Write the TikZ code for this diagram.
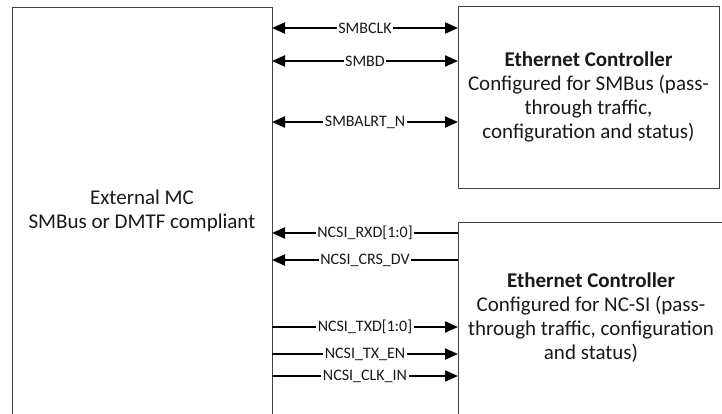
\documentclass[tikz,border=0pt]{standalone}
\usepackage{fontspec}
\setmainfont{Carlito}
\usepackage{tikz}
\usetikzlibrary{arrows.meta,positioning,calc}

\begin{document}
\begin{tikzpicture}[x=1pt, y=-1pt,
		block/.style={draw=black!75, line width=1pt, align=center, outer sep=0pt, text=black!90, font=\fontsize{21}{24}\selectfont},
		sig/.style={line width=2pt, black},
		lbl/.style={fill=white, inner sep=1.5pt, text=black!90, font=\fontsize{16}{18}\selectfont}
		]
		\useasboundingbox (0,0) rectangle (722,413);
		\clip (0,0) rectangle (722,413);
		\node[block, minimum width=260pt, minimum height=408pt] (mc) at (142,211) {External MC\\SMBus or DMTF compliant};
		\node[block, minimum width=261pt, minimum height=182pt] (ecsmb) at (588.5,97) {\textbf{Ethernet Controller}\\Configured for SMBus (pass-\\through traffic,\\configuration and status)};
		\node[block, minimum width=266pt, minimum height=192pt] (ecncsi) at (591,318) {\textbf{Ethernet Controller}\\Configured for NC-SI (pass-\\through traffic, configuration\\and status)};
		\draw[sig, {Triangle[length=13pt,width=11pt]}-{Triangle[length=13pt,width=11pt]}] (mc.east |- 0,28) -- node[lbl] {SMBCLK} (ecsmb.west |- 0,28);
		\draw[sig, {Triangle[length=13pt,width=11pt]}-{Triangle[length=13pt,width=11pt]}] (mc.east |- 0,61) -- node[lbl] {SMBD} (ecsmb.west |- 0,61);
		\draw[sig, {Triangle[length=13pt,width=11pt]}-{Triangle[length=13pt,width=11pt]}] (mc.east |- 0,122) -- node[lbl] {SMBALRT\_N} (ecsmb.west |- 0,122);
		\draw[sig, {Triangle[length=13pt,width=11pt]}-] (mc.east |- 0,233) -- node[lbl] {NCSI\_RXD[1:0]} (ecncsi.west |- 0,233);
		\draw[sig, {Triangle[length=13pt,width=11pt]}-] (mc.east |- 0,260) -- node[lbl] {NCSI\_CRS\_DV} (ecncsi.west |- 0,260);
		\draw[sig, -{Triangle[length=13pt,width=11pt]}] (mc.east |- 0,327) -- node[lbl] {NCSI\_TXD[1:0]} (ecncsi.west |- 0,327);
		\draw[sig, -{Triangle[length=13pt,width=11pt]}] (mc.east |- 0,354) -- node[lbl] {NCSI\_TX\_EN} (ecncsi.west |- 0,354);
		\draw[sig, -{Triangle[length=13pt,width=11pt]}] (mc.east |- 0,376) -- node[lbl] {NCSI\_CLK\_IN} (ecncsi.west |- 0,376);
\end{tikzpicture}
\end{document}
